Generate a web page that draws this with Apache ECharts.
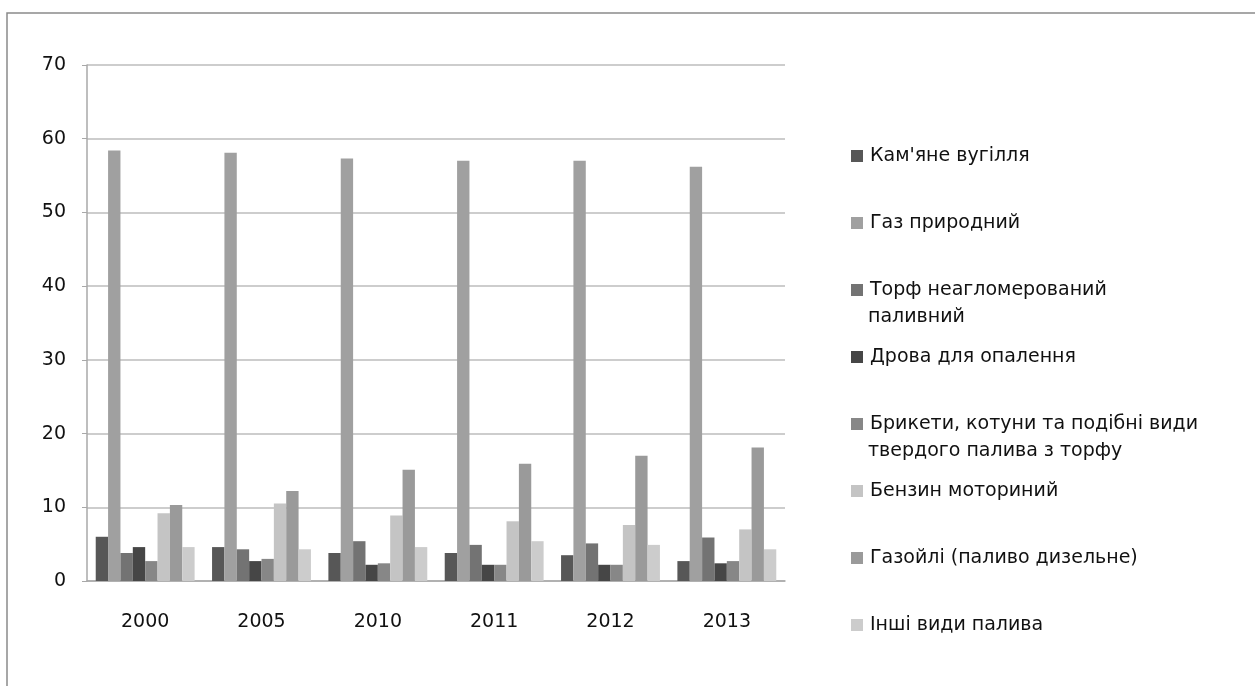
<!DOCTYPE html>
<html>
<head>
<meta charset="utf-8">
<script src="https://cdn.jsdelivr.net/npm/echarts@6/dist/echarts.min.js"></script>
<style>
  html, body { margin: 0; padding: 0; background: #fff; }
  #chart { width: 1255px; height: 686px; }
</style>
</head>
<body>
<div id="chart"></div>
<script>
// роки
const years = ['2000', '2005', '2010', '2011', '2012', '2013']

// види палива (назви в легенді)
const fuels = [
  'Кам\'яне вугілля',
  'Газ природний',
  'Торф неагломерований',
  'Дрова для опалення',
  'Брикети, котуни та подібні види',
  'Бензин моториний',
  'Газойлі (паливо дизельне)',
  'Інші види палива',
]
// продовження довгих назв (другий рядок)
const fuelsCont = ['', '', 'паливний', '', 'твердого палива з торфу', '', '', '']

// значення по роках
const coal = [6.0, 4.6, 3.8, 3.8, 3.5, 2.7]
const gas = [58.4, 58.1, 57.3, 57.0, 57.0, 56.2]
const peat = [3.8, 4.3, 5.4, 4.9, 5.1, 5.9]
const firewood = [4.6, 2.7, 2.2, 2.2, 2.2, 2.4]
const briquettes = [2.7, 3.0, 2.4, 2.2, 2.2, 2.7]
const petrol = [9.2, 10.5, 8.9, 8.1, 7.6, 7.0]
const gasoil = [10.3, 12.2, 15.1, 15.9, 17.0, 18.1]
const other = [4.6, 4.3, 4.6, 5.4, 4.9, 4.3]

const yTicks = [0, 10, 20, 30, 40, 50, 60, 70]

const values = [coal, gas, peat, firewood, briquettes, petrol, gasoil, other]
const colors = ['#575757', '#a0a0a0', '#737373', '#464646', '#878787', '#c4c4c4', '#9a9a9a', '#cccccc']

const font = 'DejaVu Sans'
const myChart = echarts.init(document.getElementById('chart'))

const legendTop = 140
const legendStep = 67

myChart.setOption({
  animation: false,
  backgroundColor: '#fff',
  textStyle: { fontFamily: font },
  grid: { left: 87, top: 65, right: 470, bottom: 105, containLabel: false },
  legend: {
    orient: 'vertical',
    left: 846,
    top: legendTop,
    itemWidth: 12,
    itemHeight: 12,
    itemGap: legendStep - 22,
    icon: 'rect',
    data: fuels,
    textStyle: { fontFamily: font, fontSize: 19, color: '#111', lineHeight: 22, padding: [0, 0, 0, 2] },
    selectedMode: false,
  },
  graphic: [
    {
      type: 'rect',
      shape: { x: 7, y: 13, width: 1400, height: 800 },
      style: { fill: 'none', stroke: '#8a8a8a', lineWidth: 1.5 },
      silent: true,
      z: -1,
    },
  ].concat(
    fuelsCont
      .map((t, i) => ({ t, i }))
      .filter((d) => d.t)
      .map((d) => ({
        type: 'text',
        left: 868,
        top: legendTop + d.i * legendStep + 34,
        style: { text: d.t, font: '19px "' + font + '"', fill: '#111' },
      }))
  ),
  xAxis: {
    type: 'category',
    data: years,
    axisLine: { lineStyle: { color: '#a8a8a8', width: 1.5 } },
    axisTick: { show: false },
    axisLabel: { color: '#111', fontSize: 19, margin: 32 },
  },
  yAxis: {
    type: 'value',
    min: 0,
    max: yTicks[yTicks.length - 1],
    interval: 10,
    axisLine: { show: true, lineStyle: { color: '#a8a8a8', width: 1.5 } },
    axisTick: { show: true, length: 5, lineStyle: { color: '#a8a8a8' } },
    axisLabel: { color: '#111', fontSize: 19, margin: 21 },
    splitLine: { lineStyle: { color: '#bcbcbc', width: 1.5 } },
  },
  series: fuels.map((name, i) => ({
    name: name,
    type: 'bar',
    data: values[i],
    barGap: '0%',
    barCategoryGap: '15%',
    itemStyle: { color: colors[i] },
  })),
})
</script>
</body>
</html>
